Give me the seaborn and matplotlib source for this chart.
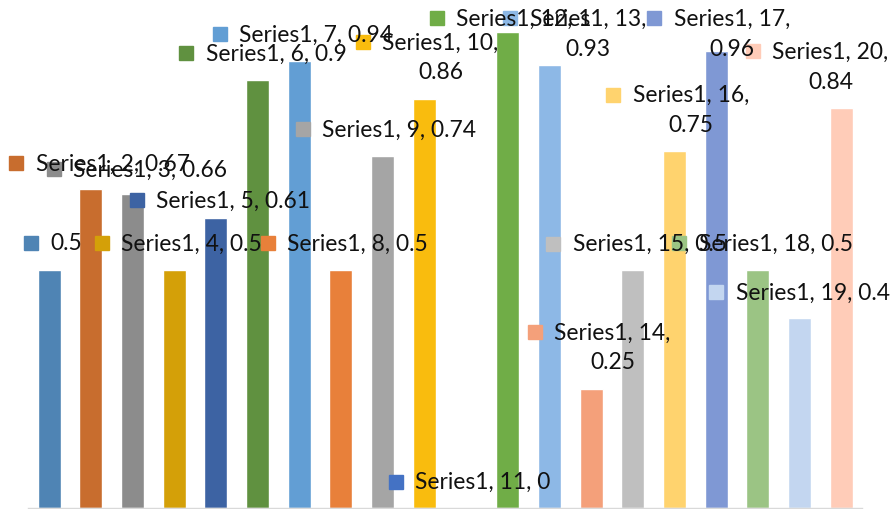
import matplotlib
matplotlib.use("Agg")
import matplotlib.pyplot as plt
import seaborn as sns
import pandas as pd

# data
categories = [str(i) for i in range(1, 21)]
values = [0.5, 0.67, 0.66, 0.5, 0.61, 0.9, 0.94, 0.5, 0.74, 0.86,
          0.0, 1.0, 0.93, 0.25, 0.5, 0.75, 0.96, 0.5, 0.4, 0.84]
bar_colors = ["#4F84B4", "#C86D2E", "#8C8C8C", "#D4A008", "#3D63A3",
              "#609140", "#629ED4", "#E8803A", "#A5A5A5", "#F9BC0E",
              "#4472C4", "#70AD47", "#8DB8E6", "#F4A07A", "#BFBFBF",
              "#FFD36E", "#7F98D4", "#9BC484", "#C3D6F0", "#FFCCB8"]

# data label texts (line 1, optional line 2)
label_lines = [
    ("0.5", None),
    ("Series1, 2, 0.67", None),
    ("Series1, 3, 0.66", None),
    ("Series1, 4, 0.5", None),
    ("Series1, 5, 0.61", None),
    ("Series1, 6, 0.9", None),
    ("Series1, 7, 0.94", None),
    ("Series1, 8, 0.5", None),
    ("Series1, 9, 0.74", None),
    ("Series1, 10,", "0.86"),
    ("Series1, 11, 0", None),
    ("Series1, 12, 1", None),
    ("Series1, 13,", "0.93"),
    ("Series1, 14,", "0.25"),
    ("Series1, 15, 0.5", None),
    ("Series1, 16,", "0.75"),
    ("Series1, 17,", "0.96"),
    ("Series1, 18, 0.5", None),
    ("Series1, 19, 0.4", None),
    ("Series1, 20,", "0.84"),
]
# where each label's key square sits (data coords)
label_x = [-0.43, -0.79, 0.12, 1.27, 2.11, 3.29, 4.10, 5.25, 6.09, 7.53,
           8.32, 9.30, 11.06, 11.65, 12.09, 13.53, 14.51, 15.11, 16.0, 16.88]
label_y = [0.557, 0.725, 0.712, 0.557, 0.647, 0.956, 0.996, 0.557, 0.796, 0.979,
           0.055, 1.029, 1.029, 0.370, 0.555, 0.868, 1.029, 0.557, 0.454, 0.960]

df = pd.DataFrame({"cat": categories, "val": values})

sns.set_style("white")
plt.rcParams["font.family"] = ["Lato", "DejaVu Sans"]

fig = plt.figure(figsize=(8.91, 5.10), dpi=100)
ax = fig.add_axes([28.2 / 891, 1 / 510, 834 / 891, 509 / 510])
sns.barplot(data=df, x="cat", y="val", hue="cat", palette=bar_colors,
            legend=False, width=0.55, saturation=1, ax=ax)
ax.set_xlim(-0.5, 19.5)
ax.set_ylim(0, 509 / 476)
ax.set_xlabel("")
ax.set_ylabel("")
ax.set_xticks([])
ax.set_yticks([])
for side in ["top", "left", "right"]:
    ax.spines[side].set_visible(False)
ax.spines["bottom"].set_color("#D9D9D9")
ax.spines["bottom"].set_linewidth(1)

renderer = fig.canvas.get_renderer()
inv = ax.transData.inverted()
for i, (l1, l2) in enumerate(label_lines):
    x, y = label_x[i], label_y[i]
    ax.plot(x, y, marker="s", markersize=9.5, color=bar_colors[i],
            linestyle="none", clip_on=False)
    t = ax.annotate(l1, (x, y), xytext=(14, 0), textcoords="offset points",
                    ha="left", va="center", fontsize=16.4, color="#111111",
                    annotation_clip=False)
    if l2:
        bb = t.get_window_extent(renderer)
        cx = (bb.x0 + bb.x1) / 2
        cy = (bb.y0 + bb.y1) / 2 - 30
        dx, dy = inv.transform((cx, cy))
        ax.text(dx, dy, l2, ha="center", va="center", fontsize=16.4,
                color="#111111")

fig.savefig("out.png", dpi=100)
